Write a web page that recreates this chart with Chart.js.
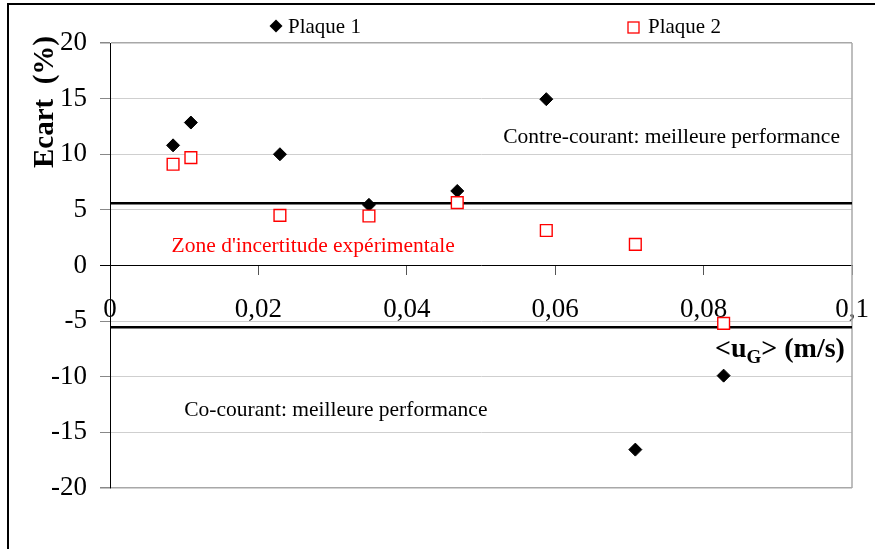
<!DOCTYPE html>
<html>
<head>
<meta charset="utf-8">
<title>Ecart</title>
<script src="https://cdn.jsdelivr.net/npm/chart.js@4/dist/chart.umd.min.js"></script>
<style>
    html, body { margin: 0; padding: 0; background: #fff; }
    #wrap { width: 875px; height: 549px; position: relative; }
</style>
</head>
<body>
<div id="wrap"><canvas id="ecartChart" width="875" height="549"></canvas></div>
<script>
// ========== DATA ==========
const uG = [0.0085, 0.0109, 0.0229, 0.0349, 0.0468, 0.0588, 0.0708, 0.0827];
const plaque1 = [10.8, 12.85, 10.0, 5.45, 6.7, 14.95, -16.55, -9.9];
const plaque2 = [9.1, 9.7, 4.5, 4.45, 5.65, 3.15, 1.9, -5.2];
const seriesNames = ["Plaque 1", "Plaque 2"];

// limits of the uncertainty zone, drawn across the whole x range
const zoneX = [0, 0.1];
const zoneUpper = [5.6, 5.6];
const zoneLower = [-5.55, -5.55];

const xTickLabels = ["0", "0,02", "0,04", "0,06", "0,08", "0,1"];

const SERIF = "'Liberation Serif', 'Times New Roman', serif";

function toPoints(xs, ys) {
    return xs.map((x, i) => ({ x: x, y: ys[i] }));
}

// ========== DECORATION PLUGIN ==========
const decorations = {
    id: "decorations",
    beforeDraw(chart) {
        const ctx = chart.ctx;
        ctx.save();
        ctx.fillStyle = "#fff";
        ctx.fillRect(0, 0, chart.width, chart.height);
        // outer frame (top and left edges visible)
        ctx.strokeStyle = "#000";
        ctx.lineWidth = 2;
        ctx.beginPath();
        ctx.moveTo(8, chart.height);
        ctx.lineTo(8, 4);
        ctx.lineTo(chart.width, 4);
        ctx.stroke();
        ctx.restore();
    },
    beforeDatasetsDraw(chart) {
        const ctx = chart.ctx;
        const a = chart.chartArea;
        ctx.save();
        ctx.strokeStyle = "#a8a8a8";
        ctx.lineWidth = 1.5;
        ctx.beginPath();
        ctx.moveTo(a.right, a.top);
        ctx.lineTo(a.right, a.bottom);
        ctx.stroke();
        ctx.restore();
    },
    afterDraw(chart) {
        const ctx = chart.ctx;
        const xs = chart.scales.x;
        const ys = chart.scales.y;
        ctx.save();

        // text annotations
        ctx.font = "21.5px " + SERIF;
        ctx.textAlign = "left";
        ctx.textBaseline = "middle";
        ctx.fillStyle = "#000";
        ctx.fillText("Contre-courant: meilleure performance", xs.getPixelForValue(0.053), ys.getPixelForValue(11.55));
        ctx.fillText("Co-courant: meilleure performance", xs.getPixelForValue(0.0100), ys.getPixelForValue(-13.05));
        ctx.fillStyle = "#ff0000";
        ctx.fillText("Zone d'incertitude expérimentale", xs.getPixelForValue(0.0083), ys.getPixelForValue(1.7));

        // legend
        ctx.font = "21px " + SERIF;
        ctx.fillStyle = "#000";
        ctx.beginPath();
        ctx.moveTo(276, 19.5);
        ctx.lineTo(282.5, 26);
        ctx.lineTo(276, 32.5);
        ctx.lineTo(269.5, 26);
        ctx.closePath();
        ctx.fill();
        ctx.fillText(seriesNames[0], 288, 27);
        ctx.fillStyle = "#fff";
        ctx.fillRect(628, 22, 11, 11);
        ctx.strokeStyle = "#ff0000";
        ctx.lineWidth = 1.3;
        ctx.strokeRect(628, 22, 11, 11);
        ctx.fillStyle = "#000";
        ctx.fillText(seriesNames[1], 648, 27);

        // y axis title
        ctx.save();
        ctx.translate(53, 102);
        ctx.rotate(-Math.PI / 2);
        ctx.font = "bold 29px " + SERIF;
        ctx.textAlign = "center";
        ctx.textBaseline = "alphabetic";
        ctx.fillText("Ecart  (%)", 0, 0);
        ctx.restore();

        // x axis title with subscript
        ctx.textAlign = "left";
        ctx.textBaseline = "alphabetic";
        let x = 715;
        const base = 357;
        ctx.font = "bold 28px " + SERIF;
        ctx.fillText("<u", x, base);
        x += ctx.measureText("<u").width;
        ctx.font = "bold 19px " + SERIF;
        ctx.fillText("G", x, base + 6);
        x += ctx.measureText("G").width;
        ctx.font = "bold 28px " + SERIF;
        ctx.fillText("> (m/s)", x, base);

        ctx.restore();
    }
};

// ========== CHART ==========
const ctx = document.getElementById("ecartChart").getContext("2d");

new Chart(ctx, {
    type: "scatter",
    data: {
        datasets: [
            {
                label: seriesNames[1],
                data: toPoints(uG, plaque2),
                pointStyle: "rect",
                pointRadius: 8.3,
                pointHoverRadius: 8.3,
                pointBorderWidth: 1.4,
                borderColor: "#ff0000",
                backgroundColor: "#ffffff",
                order: 1
            },
            {
                label: seriesNames[0],
                data: toPoints(uG, plaque1),
                pointStyle: "rectRot",
                pointRadius: 6.5,
                pointHoverRadius: 6.5,
                pointBorderWidth: 1,
                borderColor: "#000",
                backgroundColor: "#000",
                order: 2
            },
            {
                label: "limite +",
                data: toPoints(zoneX, zoneUpper),
                showLine: true,
                pointRadius: 0,
                borderColor: "#000",
                borderWidth: 2.5,
                order: 3
            },
            {
                label: "limite -",
                data: toPoints(zoneX, zoneLower),
                showLine: true,
                pointRadius: 0,
                borderColor: "#000",
                borderWidth: 2.5,
                order: 3
            }
        ]
    },
    options: {
        responsive: false,
        animation: false,
        events: [],
        layout: {
            padding: { top: 43, bottom: 61, left: 0, right: 23 }
        },
        plugins: {
            legend: { display: false },
            tooltip: { enabled: false }
        },
        scales: {
            x: {
                type: "linear",
                position: { y: 0 },
                min: 0,
                max: 0.1,
                afterFit: function (scale) {
                    scale.height = 0;
                    scale.paddingLeft = 0;
                    scale.paddingRight = 0;
                },
                afterBuildTicks: function (scale) {
                    scale.ticks = xTickLabels.map((t, i) => ({ value: i * 0.02 }));
                },
                ticks: {
                    callback: function (value, index) {
                        return xTickLabels[index];
                    },
                    font: { family: SERIF, size: 27 },
                    color: "#000",
                    padding: 19,
                    maxRotation: 0,
                    autoSkip: false
                },
                grid: {
                    drawOnChartArea: false,
                    drawTicks: true,
                    tickLength: 9,
                    tickColor: "#555"
                },
                border: { color: "#000", width: 1 }
            },
            y: {
                type: "linear",
                min: -20,
                max: 20,
                afterFit: function (scale) {
                    scale.width = 110;
                    scale.paddingTop = 0;
                    scale.paddingBottom = 0;
                },
                ticks: {
                    stepSize: 5,
                    font: { family: SERIF, size: 27 },
                    color: "#000",
                    padding: 13
                },
                grid: {
                    color: function (c) {
                        return Math.abs(c.tick.value) === 20 ? "#a8a8a8" : "#cfcfcf";
                    },
                    lineWidth: function (c) {
                        return Math.abs(c.tick.value) === 20 ? 1.5 : 1;
                    },
                    tickLength: 10,
                    tickColor: function (c) {
                        return c.tick.value === 0 ? "#000" : "#888";
                    }
                },
                border: { color: "#000", width: 1 }
            }
        }
    },
    plugins: [decorations]
});
</script>
</body>
</html>
